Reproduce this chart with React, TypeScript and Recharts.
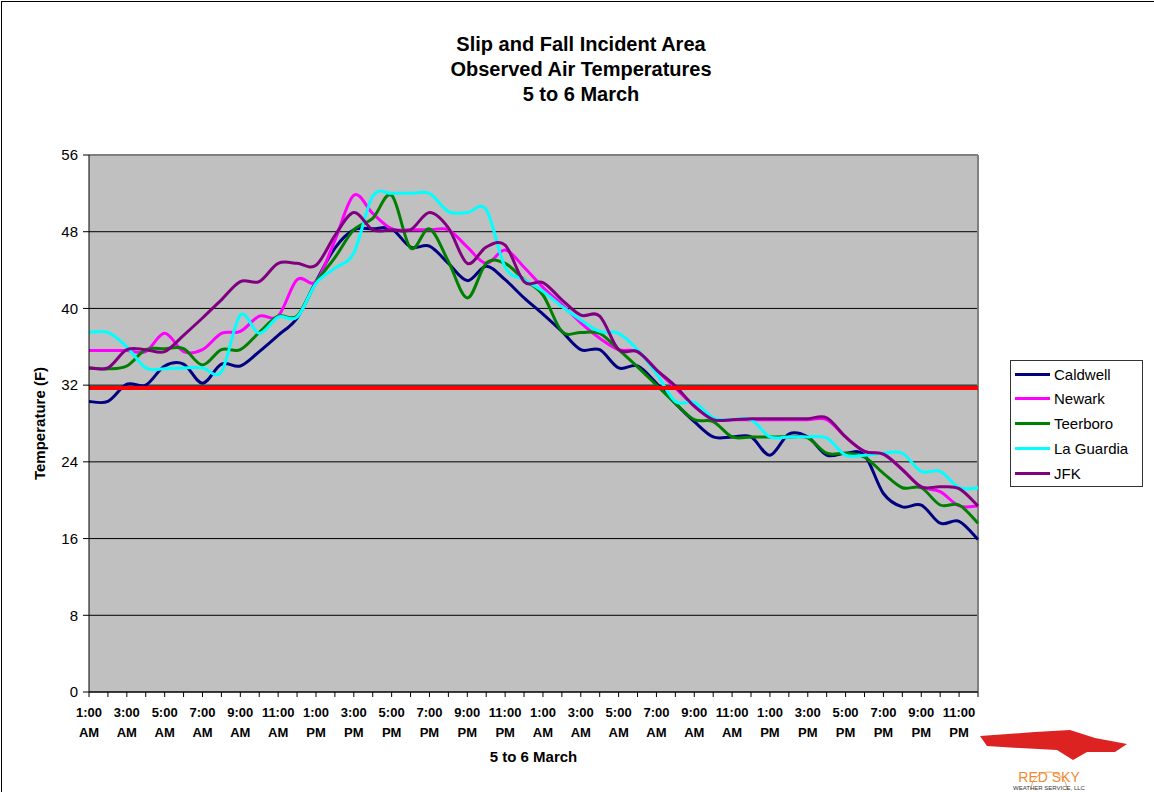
import { LineChart, Line, XAxis, YAxis, CartesianGrid, Legend, ReferenceLine } from "recharts";

// hourly observations, 5 to 6 March
const hours = [
  "1:00 AM", "2:00 AM", "3:00 AM", "4:00 AM", "5:00 AM", "6:00 AM",
  "7:00 AM", "8:00 AM", "9:00 AM", "10:00 AM", "11:00 AM", "12:00 PM",
  "1:00 PM", "2:00 PM", "3:00 PM", "4:00 PM", "5:00 PM", "6:00 PM",
  "7:00 PM", "8:00 PM", "9:00 PM", "10:00 PM", "11:00 PM", "12:00 AM",
];
const categorias = [...hours, ...hours];

const caldwell = [30.3, 30.3, 32.1, 32, 34, 34.2, 32.2, 34.2, 34, 35.5, 37.2, 39, 42.8, 46.3, 48.2, 48.3, 48.3, 46.4, 46.5, 44.7, 42.9, 44.4, 43, 41.1, 39.4, 37.6, 35.7, 35.7, 33.8, 34, 32.2, 30.1, 28.2, 26.6, 26.6, 26.6, 24.7, 26.9, 26.6, 24.7, 24.9, 24.7, 20.7, 19.3, 19.5, 17.6, 17.8, 15.9];
const newark = [35.6, 35.6, 35.6, 35.5, 37.4, 35.5, 35.7, 37.4, 37.6, 39.2, 39.2, 43, 42.8, 47.1, 51.8, 49.9, 48.3, 48.2, 48.2, 48.2, 46.4, 44.7, 46.1, 44.3, 42.2, 40.4, 38.5, 36.9, 35.7, 35.5, 33.6, 31.7, 29.8, 28.4, 28.4, 28.4, 28.4, 28.4, 28.4, 28.4, 26.6, 25.1, 24.8, 23.2, 21.4, 20.9, 19.4, 19.4];
const teerboro = [33.8, 33.7, 34, 35.7, 35.8, 35.8, 34.1, 35.7, 35.7, 37.5, 39.2, 39.2, 42.7, 45.3, 48.2, 49.4, 51.8, 46.3, 48.3, 44.9, 41.1, 44.7, 44.7, 43, 41.4, 37.6, 37.5, 37.4, 35.7, 33.9, 32, 30.1, 28.4, 28.2, 26.6, 26.6, 26.6, 26.6, 26.5, 24.9, 24.9, 24.5, 22.8, 21.3, 21.3, 19.5, 19.5, 17.6];
const laGuardia = [37.5, 37.5, 36, 33.8, 33.7, 33.8, 33.8, 33.4, 39.3, 37.4, 39.1, 39.1, 42.6, 44.2, 45.8, 51.7, 52, 52, 52, 50.1, 50, 50.3, 44.3, 43, 41.8, 40.2, 38.8, 37.6, 37.4, 35.7, 33.2, 30.3, 30.2, 28.6, 28.4, 28.4, 26.6, 26.6, 26.6, 26.5, 24.7, 24.7, 24.9, 24.9, 23, 23, 21.3, 21.3];
const jfk = [33.8, 33.8, 35.7, 35.7, 35.5, 37.2, 39, 40.9, 42.8, 42.8, 44.7, 44.7, 44.5, 47.6, 50, 48.2, 48.2, 48.2, 50, 48.4, 44.7, 46.4, 46.6, 42.8, 42.7, 40.9, 39.3, 39.2, 35.7, 35.5, 33.6, 31.9, 29.8, 28.4, 28.4, 28.5, 28.5, 28.5, 28.5, 28.6, 26.6, 25.1, 24.8, 23.2, 21.4, 21.4, 21.2, 19.4];

const yTicks = [0, 8, 16, 24, 32, 40, 48, 56];
const congelamento = 31.7; // linha vermelha (32 F) como desenhada

const series = [
  { key: "caldwell", nome: "Caldwell", cor: "#000080" },
  { key: "newark", nome: "Newark", cor: "#ff00ff" },
  { key: "teerboro", nome: "Teerboro", cor: "#008000" },
  { key: "laGuardia", nome: "La Guardia", cor: "#00ffff" },
  { key: "jfk", nome: "JFK", cor: "#800080" },
];

const dados = categorias.map((hora, i) => ({
  hora,
  caldwell: caldwell[i],
  newark: newark[i],
  teerboro: teerboro[i],
  laGuardia: laGuardia[i],
  jfk: jfk[i],
}));

// suavização estilo Excel (Catmull-Rom em Bezier)
function curvaSuave(context: any) {
  let pts: number[][] = [];
  return {
    areaStart() {},
    areaEnd() {},
    lineStart() { pts = []; },
    point(x: number, y: number) { pts.push([+x, +y]); },
    lineEnd() {
      if (!pts.length) return;
      context.moveTo(pts[0][0], pts[0][1]);
      for (let i = 0; i < pts.length - 1; i++) {
        const p0 = pts[i - 1] || pts[i];
        const p1 = pts[i];
        const p2 = pts[i + 1];
        const p3 = pts[i + 2] || p2;
        context.bezierCurveTo(
          p1[0] + (p2[0] - p0[0]) / 6, p1[1] + (p2[1] - p0[1]) / 6,
          p2[0] - (p3[0] - p1[0]) / 6, p2[1] - (p3[1] - p1[1]) / 6,
          p2[0], p2[1]
        );
      }
    },
  };
}

const XTick = (props: any) => {
  const { x, y, payload } = props;
  if (payload.index % 2 !== 0) return <g />;
  const [t, ap] = String(payload.value).split(" ");
  return (
    <g>
      <text x={x} y={y + 18} textAnchor="middle" fontSize={13} fontWeight="bold" fill="#000">{t}</text>
      <text x={x} y={y + 38} textAnchor="middle" fontSize={13} fontWeight="bold" fill="#000">{ap}</text>
    </g>
  );
};

const LegendaBox = () => (
  <div style={{ width: 131, height: 125, border: "1px solid #333", background: "#fff", boxSizing: "content-box" }}>
    {series.map((s, i) => (
      <div key={s.key} style={{ position: "absolute", top: 4 + i * 24.8, left: 5, display: "flex", alignItems: "center", height: 20 }}>
        <div style={{ width: 35, height: 3, background: s.cor, marginRight: 4 }} />
        <span style={{ fontSize: 15, color: "#000" }}>{s.nome}</span>
      </div>
    ))}
  </div>
);

export default function App() {
  return (
    <div style={{ position: "relative", width: 1154, height: 792, background: "#fff", fontFamily: "'Liberation Sans', Arial, sans-serif", overflow: "hidden" }}>
      <style>{"body{margin:0}"}</style>
      <div style={{ position: "absolute", left: 1, top: 1, width: 1200, height: 900, borderLeft: "1px solid #000", borderTop: "1px solid #000" }} />

      <div style={{ position: "absolute", top: 32, left: 0, width: 1162, textAlign: "center", fontWeight: "bold", fontSize: 20, lineHeight: "25px" }}>
        <div>Slip and Fall Incident Area</div>
        <div>Observed Air Temperatures</div>
        <div>5 to 6 March</div>
      </div>

      <LineChart width={1154} height={792} data={dados} margin={{ top: 155, right: 176, bottom: 40, left: 0 }} style={{ position: "absolute", left: 0, top: 0 }}>
        <CartesianGrid vertical={false} stroke="#000" fill="#c0c0c0" strokeWidth={1} />
        <XAxis
          dataKey="hora"
          interval={0}
          height={60}
          tick={<XTick />}
          tickSize={5}
          axisLine={{ stroke: "#000" }}
          tickLine={{ stroke: "#000" }}
          label={{ value: "5 to 6 March", position: "insideBottom", offset: -10, style: { fontWeight: "bold", fontSize: 15, fill: "#000" } }}
        />
        <YAxis
          domain={[0, 56]}
          ticks={yTicks}
          width={89}
          tickSize={6}
          tickMargin={5}
          tick={{ fill: "#000", fontSize: 15 }}
          axisLine={{ stroke: "#000" }}
          tickLine={{ stroke: "#000" }}
          label={{ value: "Temperature (F)", angle: -90, position: "insideLeft", offset: 40, style: { textAnchor: "middle", fontWeight: "bold", fontSize: 15, fill: "#000" } }}
        />
        <ReferenceLine y={56} stroke="#808080" strokeWidth={2} />
        <ReferenceLine x={categorias.length - 1} stroke="#808080" strokeWidth={2} />
        {series.map((s) => (
          <Line
            key={s.key}
            dataKey={s.key}
            name={s.nome}
            type={curvaSuave as any}
            stroke={s.cor}
            strokeWidth={3}
            dot={false}
            activeDot={false}
            isAnimationActive={false}
          />
        ))}
        <ReferenceLine y={congelamento} stroke="#ff0000" strokeWidth={4} />
        <Legend
          layout="vertical"
          align="center"
          verticalAlign="middle"
          content={<LegendaBox />}
          wrapperStyle={{ left: 1010, top: 360, width: 133, height: 127 }}
        />
      </LineChart>

      {/* logo Red Sky */}
      <svg style={{ position: "absolute", left: 975, top: 728 }} width={179} height={64}>
        <path d="M5 8 L60 4 L95 2 L120 10 L152 16 L140 24 L112 24 L98 32 L82 22 L45 20 L12 18 Z" fill="#dd2222" />
        <path d="M56 62 A18 18 0 0 1 92 62" fill="none" stroke="#f4a460" strokeWidth={1} />
        <text x={74} y={54} textAnchor="middle" fontSize={14} fill="#f08a30">RED SKY</text>
        <text x={74} y={62} textAnchor="middle" fontSize={6} fill="#333">WEATHER SERVICE, LLC</text>
      </svg>
    </div>
  );
}
